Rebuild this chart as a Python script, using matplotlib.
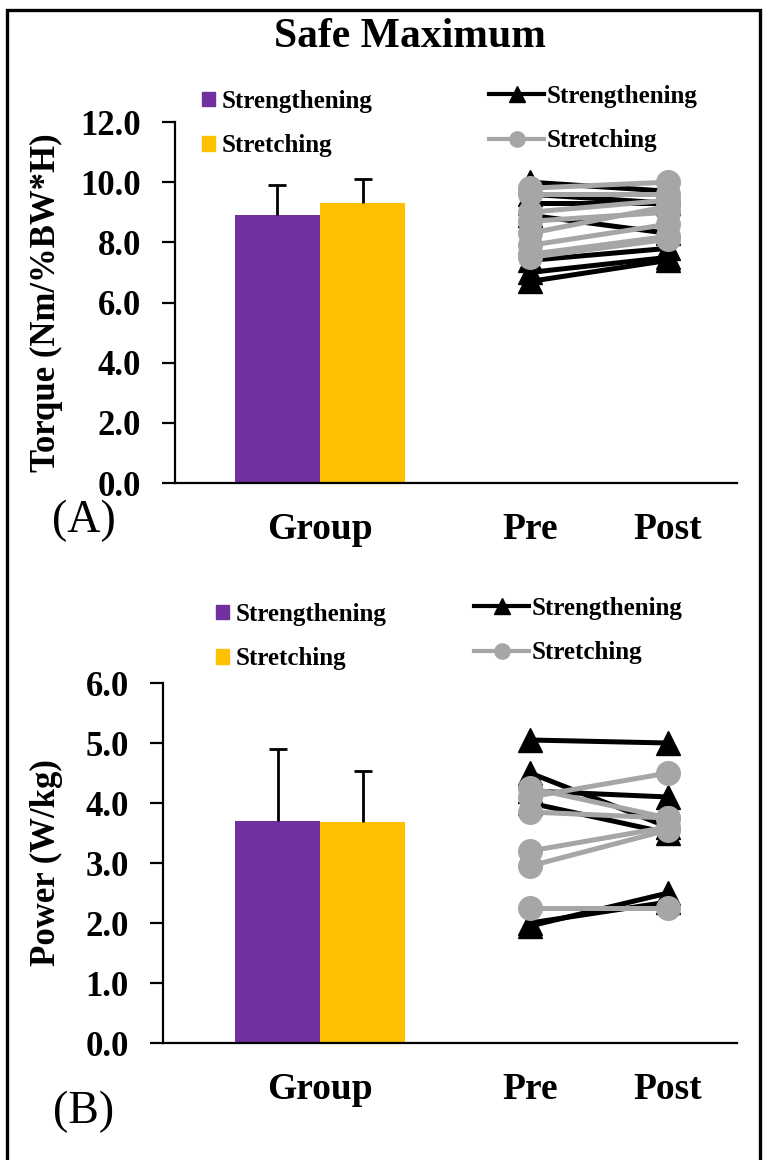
import numpy as np
import matplotlib
matplotlib.use('Agg')
import matplotlib.pyplot as plt
from matplotlib.patches import Patch, Rectangle
from matplotlib.lines import Line2D

plt.rcParams['font.family'] = ['Liberation Serif', 'DejaVu Serif']
plt.rcParams['font.weight'] = 'bold'

# group bars (mean, upper SD)
groups = ['Strengthening', 'Stretching']
torque_mean = [8.9, 9.3]
torque_sd = [1.0, 0.8]
power_mean = [3.7, 3.68]
power_sd = [1.2, 0.85]

# individual pre/post values
torque_sg_pre = [10.0, 9.6, 9.3, 8.9, 7.4, 7.0, 6.7]
torque_sg_post = [9.7, 9.3, 9.3, 8.3, 7.8, 7.5, 7.4]
torque_st_pre = [9.8, 9.6, 9.0, 8.7, 8.3, 7.9, 7.6, 7.5]
torque_st_post = [10.0, 9.6, 9.4, 9.0, 9.2, 8.6, 8.2, 8.1]

power_sg_pre = [5.05, 4.5, 4.2, 4.0, 1.95, 2.0]
power_sg_post = [5.0, 3.6, 4.1, 3.5, 2.5, 2.35]
power_st_pre = [4.25, 4.1, 3.85, 3.2, 2.95, 2.25]
power_st_post = [3.75, 4.5, 3.75, 3.6, 3.55, 2.25]

cat_labels = ['Group', 'Pre', 'Post']

purple = '#7030A0'
yellow = '#FFC000'
grey = '#A6A6A6'

W, H = 767, 1160
fig = plt.figure(figsize=(W / 100, H / 100), dpi=100)

# x positions (group centre, pre, post)
xg, xpre, xpost = 0.0, 1.52, 2.52
bw = 0.616


def panel(rect, xlo, mean, sd, sg_pre, sg_post, st_pre, st_post, ymax, ystep, ylabel, tag, tag_y, leg1, leg2):
    ax = fig.add_axes(rect)
    ax.bar([xg - bw / 2, xg + bw / 2], mean, width=bw, color=[purple, yellow], zorder=2)
    eb = ax.errorbar([xg - bw / 2, xg + bw / 2], mean, yerr=[[0, 0], sd], fmt='none',
                     ecolor='black', elinewidth=2, capsize=6.5, capthick=2, zorder=3)
    eb[1][0].set_visible(False)  # no lower cap
    for a, b in zip(sg_pre, sg_post):
        ax.plot([xpre, xpost], [a, b], '-', color='black', lw=3.6, marker='^', ms=17, zorder=4)
    for a, b in zip(st_pre, st_post):
        ax.plot([xpre, xpost], [a, b], '-', color=grey, lw=3.6, marker='o', ms=17, zorder=5)
    ax.set_xlim(xlo, 3.02)
    ax.set_ylim(0, ymax)
    ax.set_yticks(np.arange(0, ymax + 0.01, ystep))
    ax.set_yticklabels(['%.1f' % v for v in np.arange(0, ymax + 0.01, ystep)])
    ax.set_xticks([])
    for s in ['top', 'right']:
        ax.spines[s].set_visible(False)
    for s in ['left', 'bottom']:
        ax.spines[s].set_linewidth(1.6)
    ax.tick_params(axis='y', length=9.5, width=1.6, labelsize=25, pad=15)
    ax.set_ylabel(ylabel, fontsize=25, fontweight='bold')
    ax.yaxis.set_label_coords((63 - rect[0] * W) / (rect[2] * W), 0.5)
    for x, lab in zip([xg, xpre, xpost], cat_labels):
        ax.text(x, -0.08, lab, transform=ax.get_xaxis_transform(), ha='center', va='top', fontsize=27)
    fig.text(84 / W, 1 - tag_y / H, tag, ha='center', va='center', fontsize=33, fontweight='normal')

    h1 = [Patch(color=purple), Patch(color=yellow)]
    l1 = ax.legend(h1, groups, loc='upper left', bbox_to_anchor=leg1, bbox_transform=fig.transFigure,
                   frameon=False, fontsize=18, handlelength=0.5, handleheight=0.5, handletextpad=0.3,
                   borderpad=0, borderaxespad=0, labelspacing=0.85)
    ax.add_artist(l1)
    h2 = [Line2D([], [], color='black', lw=3, marker='^', ms=11),
          Line2D([], [], color=grey, lw=3, marker='o', ms=11)]
    ax.legend(h2, groups, loc='upper left', bbox_to_anchor=leg2, bbox_transform=fig.transFigure,
              frameon=False, fontsize=18, handlelength=2.2, handletextpad=0.1,
              borderpad=0, borderaxespad=0, labelspacing=0.85)
    return ax


panel([175 / W, 1 - 483 / H, 562 / W, 361 / H], -1.05, torque_mean, torque_sd,
      torque_sg_pre, torque_sg_post, torque_st_pre, torque_st_post, 12, 2,
      'Torque (Nm/%BW*H)', '(A)', 521, (202 / W, 1 - 90 / H), (489 / W, 1 - 85 / H))
panel([163 / W, 1 - 1043 / H, 574 / W, 360 / H], -1.14, power_mean, power_sd,
      power_sg_pre, power_sg_post, power_st_pre, power_st_post, 6, 1,
      'Power (W/kg)', '(B)', 1112, (216 / W, 1 - 603 / H), (474 / W, 1 - 597 / H))

fig.text(410 / W, 1 - 37 / H, 'Safe Maximum', ha='center', va='center', fontsize=30)

fig.patches.append(Rectangle((7 / W, -0.1), 753 / W, 1.1 - 10 / H, transform=fig.transFigure,
                             fill=False, edgecolor='black', lw=2.4))

fig.savefig('out.png', dpi=100)
